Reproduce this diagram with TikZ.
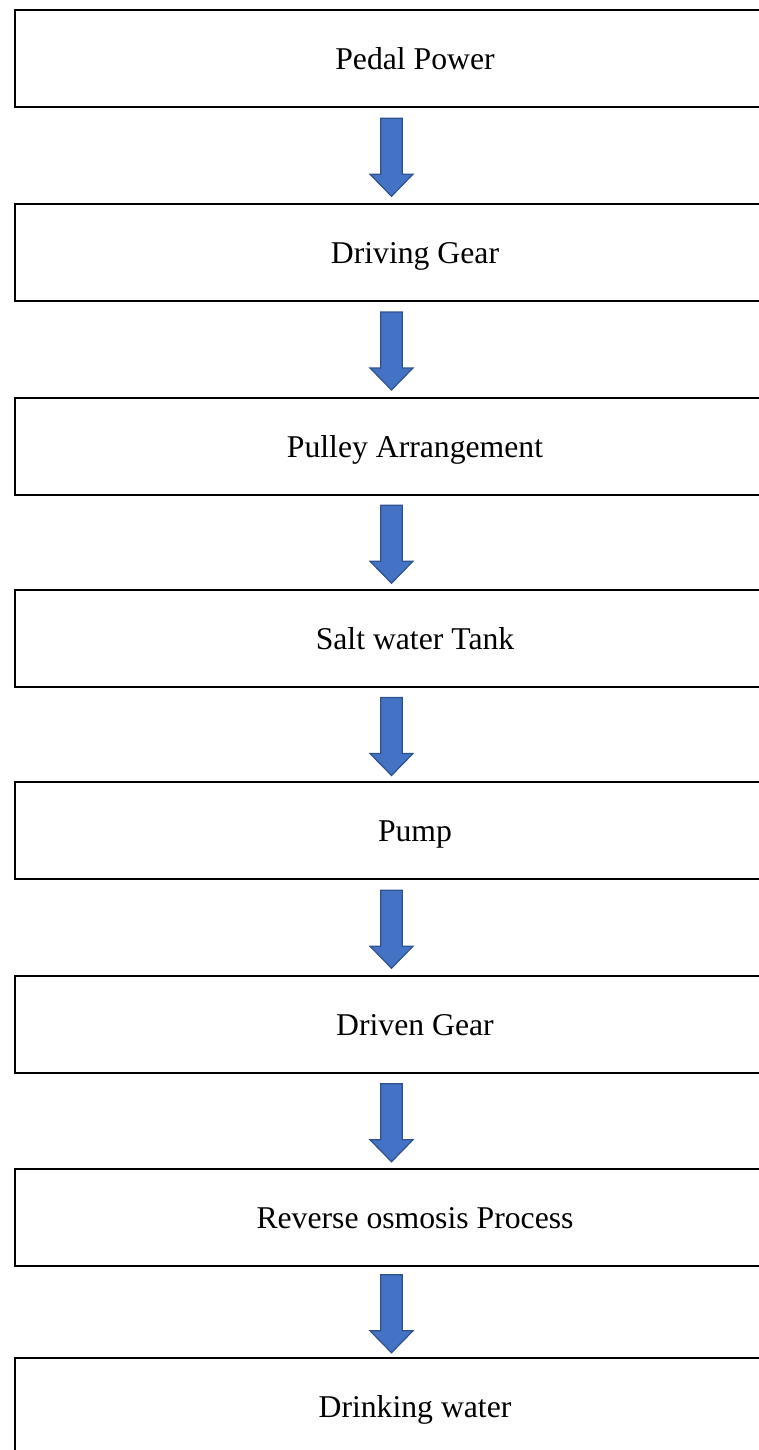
\documentclass[tikz,border=0pt]{standalone}
\usepackage{fontspec}
\setmainfont{Liberation Serif}
\usetikzlibrary{calc}

\definecolor{arrowblue}{RGB}{68,114,196}
\definecolor{arrowedge}{RGB}{47,82,143}

\tikzset{
  stagebox/.style={draw, line width=1pt, minimum width=400pt, minimum height=48.5pt,
    inner sep=0pt, text height=14pt, text depth=3pt,
    font=\fontsize{15.85}{18}\selectfont},
  blockarrow/.style={fill=arrowblue, draw=arrowedge, line width=0.6pt, line join=miter}
}

% block arrow centred in the gap between two boxes
\newcommand{\flowarrow}[2]{%
  \draw[blockarrow] ($(#1.south)!0.5!(#2.north)+(-34.3,-37)$)
    -- ++(21.6,0) -- ++(0,56) -- ++(10.7,0) -- ++(-21.5,22)
    -- ++(-21.5,-22) -- ++(10.7,0) -- cycle;}

\begin{document}
\begin{tikzpicture}[x=0.5pt,y=-0.5pt,line cap=round]
        \useasboundingbox (0,0) rectangle (759,1450);
        \clip (0,0) rectangle (759,1450);

        % Stages of the pedal powered desalination unit
        \node[stagebox] (pedal)   at (415,58.5)   {Pedal Power};
        \node[stagebox] (driving) at (415,252)    {Driving Gear};
        \node[stagebox] (pulley)  at (415,446)    {Pulley Arrangement};
        \node[stagebox] (tank)    at (415,638.5)  {Salt water Tank};
        \node[stagebox] (pump)    at (415,830.5)  {Pump};
        \node[stagebox] (driven)  at (415,1024)   {Driven Gear};
        \node[stagebox] (osmosis) at (415,1217.5) {Reverse osmosis Process};
        \node[stagebox] (drink)   at (415,1406)   {Drinking water};

        % Flow arrows
        \flowarrow{pedal}{driving}
        \flowarrow{driving}{pulley}
        \flowarrow{pulley}{tank}
        \flowarrow{tank}{pump}
        \flowarrow{pump}{driven}
        \flowarrow{driven}{osmosis}
        \flowarrow{osmosis}{drink}
    \end{tikzpicture}
\end{document}
